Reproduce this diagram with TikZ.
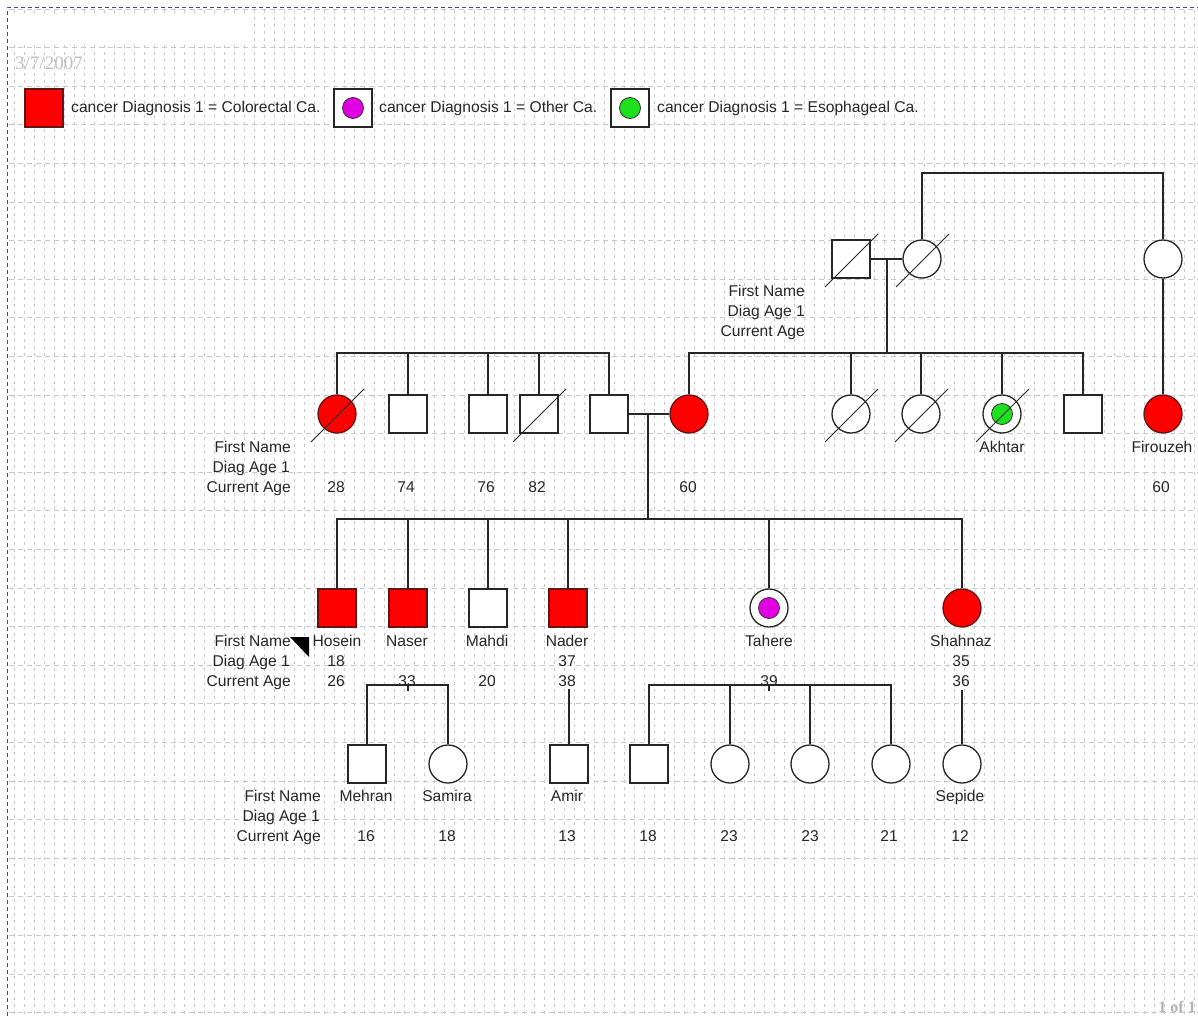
\documentclass[tikz,border=0pt]{standalone}
\usepackage{fontspec}
\setmainfont{Liberation Sans}
\newfontfamily\serifgray{Liberation Serif}
\newcommand\pedfont{\fontsize{15.6}{18}\selectfont}
\newcommand\deceased[1]{\draw[dslash] ([shift={(-26,28)}]#1.center) -- ([shift={(27,-25)}]#1.center);}
\definecolor{affred}{RGB}{255,0,0}
\definecolor{affborder}{RGB}{100,20,20}
\definecolor{othmag}{RGB}{225,0,225}
\definecolor{esogreen}{RGB}{30,225,30}
\definecolor{gridgray}{RGB}{200,200,200}
\definecolor{frameblue}{RGB}{70,70,120}
\tikzset{
  sym/.style={draw=black!85, line width=1.3pt, fill=white, inner sep=0pt, minimum size=38pt},
  male/.style={sym, rectangle},
  female/.style={sym, circle},
  aff/.style={fill=affred, draw=affborder},
  dotc/.style={circle, inner sep=0pt, minimum size=21pt, draw=black!80, line width=0.8pt},
  rel/.style={draw=black!85, line width=1.4pt},
  dslash/.style={draw=black!85, line width=1pt},
  txt/.style={font=\pedfont, text=black!85, inner sep=0pt},
  gridv/.style={draw=gridgray, line width=0.7pt, dash pattern=on 3pt off 4pt},
  gridh/.style={draw=gridgray, line width=0.7pt, dash pattern=on 5pt off 4pt},
}
\begin{document}
\begin{tikzpicture}[x=1pt,y=-1pt]
\useasboundingbox (0,0) rectangle (1198,1016);
\clip (0,0) rectangle (1198,1016);
\fill[white] (0,0) rectangle (1198,1016);
% background grid
\foreach \x in {14,24,...,1194} \draw[gridv] (\x,10) -- (\x,1016);
\foreach \k in {0,...,26} \draw[gridh] (9,{9+38.6*\k}) -- (1198,{9+38.6*\k});
% page frame
\draw[frameblue, line width=1pt, dash pattern=on 4pt off 3pt] (7,1016) -- (7,8) -- (1198,8);
\fill[white] (14,13) rectangle (247,42);
\node[font=\serifgray\fontsize{19}{22}\selectfont, text=gray!50, anchor=base west, inner sep=0pt] (date) at (15,70) {3/7/2007};
\node[font=\serifgray\bfseries\fontsize{16}{19}\selectfont, text=gray!60, anchor=base east, inner sep=0pt] (pageno) at (1196,1012) {1 of 1};

% legend
\node[male, aff] (lg1) at (44,108) {};
\node[txt, anchor=base west] (lg1t) at (71,113) {cancer Diagnosis 1 = Colorectal Ca.};
\node[male, line width=1.2pt] (lg2) at (353,108) {};
\node[dotc, fill=othmag] (lg2c) at (lg2.center) {};
\node[txt, anchor=base west] (lg2t) at (379,113) {cancer Diagnosis 1 = Other Ca.};
\node[male, line width=1.2pt] (lg3) at (630,108) {};
\node[dotc, fill=esogreen] (lg3c) at (lg3.center) {};
\node[txt, anchor=base west] (lg3t) at (657,113) {cancer Diagnosis 1 = Esophageal Ca.};

% generation 1
\node[male] (g1m) at (851,259) {};
\node[female] (g1f) at (922,259) {};
\node[female] (g1s) at (1163,259) {};
\deceased{g1m}
\deceased{g1f}
\coordinate (g1top) at (1000,173);
\coordinate (g1c) at (887,259);
\coordinate (sib2) at (0,353);
\draw[rel] (g1m.east) -- (g1f.west);
\draw[rel] (g1f.north) |- (g1top) -| (g1s.north);
\node[txt, anchor=base east] (h1a) at (805,296) {First Name};
\node[txt, anchor=base east] (h1b) at (805,316) {Diag Age 1};
\node[txt, anchor=base east] (h1c) at (805,336) {Current Age};

% generation 2
\node[female, aff] (a1) at (337,414) {};
\node[male] (a2) at (408,414) {};
\node[male] (a3) at (488,414) {};
\node[male] (a4) at (539,414) {};
\node[male] (a5) at (609,414) {};
\deceased{a1}
\deceased{a4}
\node[female, aff] (b1) at (689,414) {};
\node[female] (b2) at (851,414) {};
\node[female] (b3) at (921,414) {};
\node[female] (b4) at (1002,414) {};
\node[dotc, fill=esogreen] (b4c) at (b4.center) {};
\node[male] (b5) at (1083,414) {};
\node[female, aff] (fir) at (1163,414) {};
\deceased{b2}
\deceased{b3}
\deceased{b4}

\draw[rel] (a1.north) -- (a1.north |- sib2) -- (a5.north |- sib2) -- (a5.north);
\foreach \n in {a2,a3,a4} \draw[rel] (\n.north) -- (\n.north |- sib2);
\draw[rel] (b1.north) -- (b1.north |- sib2) -- (b5.north |- sib2) -- (b5.north);
\foreach \n in {b2,b3,b4} \draw[rel] (\n.north) -- (\n.north |- sib2);
\draw[rel] (g1c) -- (g1c |- sib2);
\draw[rel] (g1s.south) -- (fir.north);

\node[txt, anchor=base east] (h2a) at (291,452) {First Name};
\node[txt, anchor=base east] (h2b) at (290,472) {Diag Age 1};
\node[txt, anchor=base east] (h2c) at (291,492) {Current Age};
\node[txt, anchor=base] (nb4) at (1002,452) {Akhtar};
\node[txt, anchor=base] (nfir) at (1162,452) {Firouzeh};
\node[txt, anchor=base] (ca1) at (336,492) {28};
\node[txt, anchor=base] (ca2) at (406,492) {74};
\node[txt, anchor=base] (ca3) at (486,492) {76};
\node[txt, anchor=base] (ca4) at (537,492) {82};
\node[txt, anchor=base] (cb1) at (688,492) {60};
\node[txt, anchor=base] (cfir) at (1161,492) {60};

% marriage and generation 3
\coordinate (m2) at (648,414);
\coordinate (sib3) at (0,519);
\draw[rel] (a5.east) -- (b1.west);
\draw[rel] (m2) -- (m2 |- sib3);
\node[male, aff] (c1) at (337,608) {};
\node[male, aff] (c2) at (408,608) {};
\node[male] (c3) at (488,608) {};
\node[male, aff] (c4) at (568,608) {};
\node[female] (c5) at (769,608) {};
\node[dotc, fill=othmag] (c5c) at (c5.center) {};
\node[female, aff] (c6) at (962,608) {};
\draw[rel] (c1.north) -- (c1.north |- sib3) -- (c6.north |- sib3) -- (c6.north);
\foreach \n in {c2,c3,c4,c5} \draw[rel] (\n.north) -- (\n.north |- sib3);

\node[txt, anchor=base east] (h3a) at (291,646) {First Name};
\node[txt, anchor=base east] (h3b) at (290,666) {Diag Age 1};
\node[txt, anchor=base east] (h3c) at (291,686) {Current Age};
\fill[black] (290,637) -- (309,637) -- (309,657) -- cycle;
\node[txt, anchor=base] (nc1) at (337,646) {Hosein};
\node[txt, anchor=base] (nc2) at (407,646) {Naser};
\node[txt, anchor=base] (nc3) at (487,646) {Mahdi};
\node[txt, anchor=base] (nc4) at (567,646) {Nader};
\node[txt, anchor=base] (nc5) at (769,646) {Tahere};
\node[txt, anchor=base] (nc6) at (961,646) {Shahnaz};
\node[txt, anchor=base] (dc1) at (336,666) {18};
\node[txt, anchor=base] (dc4) at (567,666) {37};
\node[txt, anchor=base] (dc6) at (961,666) {35};
\node[txt, anchor=base] (cc1) at (336,686) {26};
\node[txt, anchor=base] (cc2) at (407,686) {33};
\node[txt, anchor=base] (cc3) at (487,686) {20};
\node[txt, anchor=base] (cc4) at (567,686) {38};
\node[txt, anchor=base] (cc5) at (769,686) {39};
\node[txt, anchor=base] (cc6) at (961,686) {36};

% generation 4
\coordinate (sib4) at (0,685);
\node[male] (d1) at (367,764) {};
\node[female] (d2) at (448,764) {};
\node[male] (d3) at (569,764) {};
\node[male] (e1) at (649,764) {};
\node[female] (e2) at (730,764) {};
\node[female] (e3) at (810,764) {};
\node[female] (e4) at (891,764) {};
\node[female] (f1) at (962,764) {};
\coordinate (t2) at (408,691);
\coordinate (t5) at (769,691);
\coordinate (t4) at (569,689);
\coordinate (t6) at (962,690);
\draw[rel] (d1.north) -- (d1.north |- sib4) -- (d2.north |- sib4) -- (d2.north);
\draw[rel] (t2) -- (t2 |- sib4);
\draw[rel] (e1.north) -- (e1.north |- sib4) -- (e4.north |- sib4) -- (e4.north);
\foreach \n in {e2,e3} \draw[rel] (\n.north) -- (\n.north |- sib4);
\draw[rel] (t5) -- (t5 |- sib4);
\draw[rel] (t4) -- (d3.north);
\draw[rel] (t6) -- (f1.north);

\node[txt, anchor=base east] (h4a) at (321,801) {First Name};
\node[txt, anchor=base east] (h4b) at (320,821) {Diag Age 1};
\node[txt, anchor=base east] (h4c) at (321,841) {Current Age};
\node[txt, anchor=base] (nd1) at (366,801) {Mehran};
\node[txt, anchor=base] (nd2) at (447,801) {Samira};
\node[txt, anchor=base] (nd3) at (567,801) {Amir};
\node[txt, anchor=base] (nf1) at (960,801) {Sepide};
\node[txt, anchor=base] (cd1) at (366,841) {16};
\node[txt, anchor=base] (cd2) at (447,841) {18};
\node[txt, anchor=base] (cd3) at (567,841) {13};
\node[txt, anchor=base] (ce1) at (648,841) {18};
\node[txt, anchor=base] (ce2) at (729,841) {23};
\node[txt, anchor=base] (ce3) at (810,841) {23};
\node[txt, anchor=base] (ce4) at (889,841) {21};
\node[txt, anchor=base] (cf1) at (960,841) {12};
\end{tikzpicture}
\end{document}
